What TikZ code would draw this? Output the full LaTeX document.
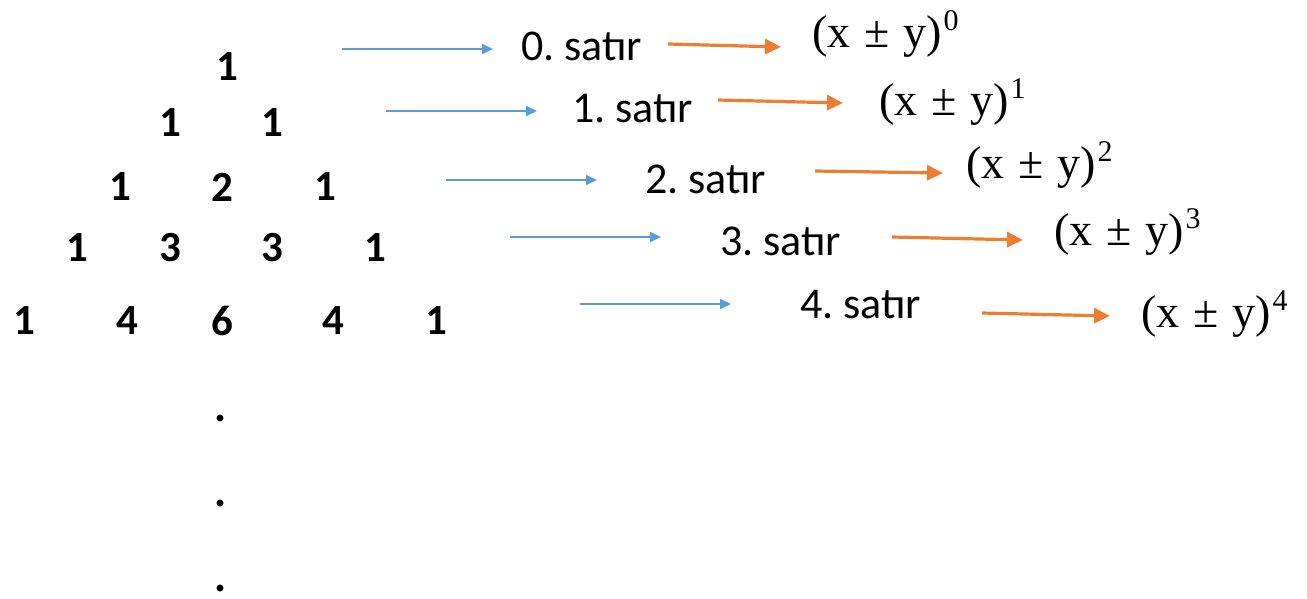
\documentclass[tikz,border=0pt]{standalone}
\usepackage{fontspec}
\setmainfont{Carlito}
\usetikzlibrary{arrows.meta}
\definecolor{bluearr}{HTML}{5B9BD5}
\definecolor{orangearr}{HTML}{ED7D31}
\newfontfamily\exprfont{Liberation Serif}
\newcommand{\xpy}[1]{(x\hspace{0.3em}±\hspace{0.3em}y)\hspace{2pt}\raisebox{17pt}{\fontsize{30}{32}\selectfont #1}}
\frenchspacing
\begin{document}
\begin{tikzpicture}[x=1pt,y=-1pt,
  num/.style={font=\fontsize{43}{50}\selectfont\bfseries, inner sep=0pt},
  lab/.style={font=\fontsize{44}{50}\selectfont, inner sep=0pt, anchor=base west},
  expr/.style={font=\exprfont\fontsize{46}{52}\selectfont, inner sep=0pt, anchor=base west},
  dotn/.style={circle, fill=black, inner sep=0pt, minimum size=7pt},
  barrow/.style={draw=bluearr, line width=1.8pt, -{Triangle[length=11pt,width=10pt]}},
  oarrow/.style={draw=orangearr, line width=3.2pt, -{Triangle[length=16pt,width=15pt]}}]
\useasboundingbox (0,0) rectangle (1307,598);
% triangle numbers
\node[num] (r0a) at (227,67) {1};
\node[num] (r1a) at (170,123) {1};
\node[num] (r1b) at (272,123) {1};
\node[num] (r2a) at (120,187) {1};
\node[num] (r2b) at (222,187) {2};
\node[num] (r2c) at (325,187) {1};
\node[num] (r3a) at (77,248) {1};
\node[num] (r3b) at (170,248) {3};
\node[num] (r3c) at (272,248) {3};
\node[num] (r3d) at (375,248) {1};
\node[num] (r4a) at (24,321) {1};
\node[num] (r4b) at (127,321) {4};
\node[num] (r4c) at (222,321) {6};
\node[num] (r4d) at (333,321) {4};
\node[num] (r4e) at (436,321) {1};
\node[dotn] (d1) at (220,418) {};
\node[dotn] (d2) at (220,503) {};
\node[dotn] (d3) at (220,588) {};
% row labels
\node[lab] (s0) at (521,60) {0. satır};
\node[lab] (s1) at (572,122) {1. satır};
\node[lab] (s2) at (645,193) {2. satır};
\node[lab] (s3) at (720,255) {3. satır};
\node[lab] (s4) at (800,318) {4. satır};
% expressions
\node[expr] (e0) at (812,47) {\xpy{0}};
\node[expr] (e1) at (879,115) {\xpy{1}};
\node[expr] (e2) at (966,178) {\xpy{2}};
\node[expr] (e3) at (1054,245) {\xpy{3}};
\node[expr] (e4) at (1141,327) {\xpy{4}};
% blue arrows
\coordinate (b0s) at (342,49); \coordinate (b0e) at (493,49);
\coordinate (b1s) at (386,111); \coordinate (b1e) at (537,111);
\coordinate (b2s) at (446,180); \coordinate (b2e) at (597,180);
\coordinate (b3s) at (510,237); \coordinate (b3e) at (661,237);
\coordinate (b4s) at (580,304); \coordinate (b4e) at (731,304);
\draw[barrow] (b0s) -- (b0e);
\draw[barrow] (b1s) -- (b1e);
\draw[barrow] (b2s) -- (b2e);
\draw[barrow] (b3s) -- (b3e);
\draw[barrow] (b4s) -- (b4e);
% orange arrows
\coordinate (o0s) at (668,44); \coordinate (o0e) at (781,47);
\coordinate (o1s) at (718,100); \coordinate (o1e) at (843,103);
\coordinate (o2s) at (815,171); \coordinate (o2e) at (943,173);
\coordinate (o3s) at (892,237); \coordinate (o3e) at (1023,240);
\coordinate (o4s) at (982,313); \coordinate (o4e) at (1110,316);
\draw[oarrow] (o0s) -- (o0e);
\draw[oarrow] (o1s) -- (o1e);
\draw[oarrow] (o2s) -- (o2e);
\draw[oarrow] (o3s) -- (o3e);
\draw[oarrow] (o4s) -- (o4e);
\end{tikzpicture}
\end{document}
